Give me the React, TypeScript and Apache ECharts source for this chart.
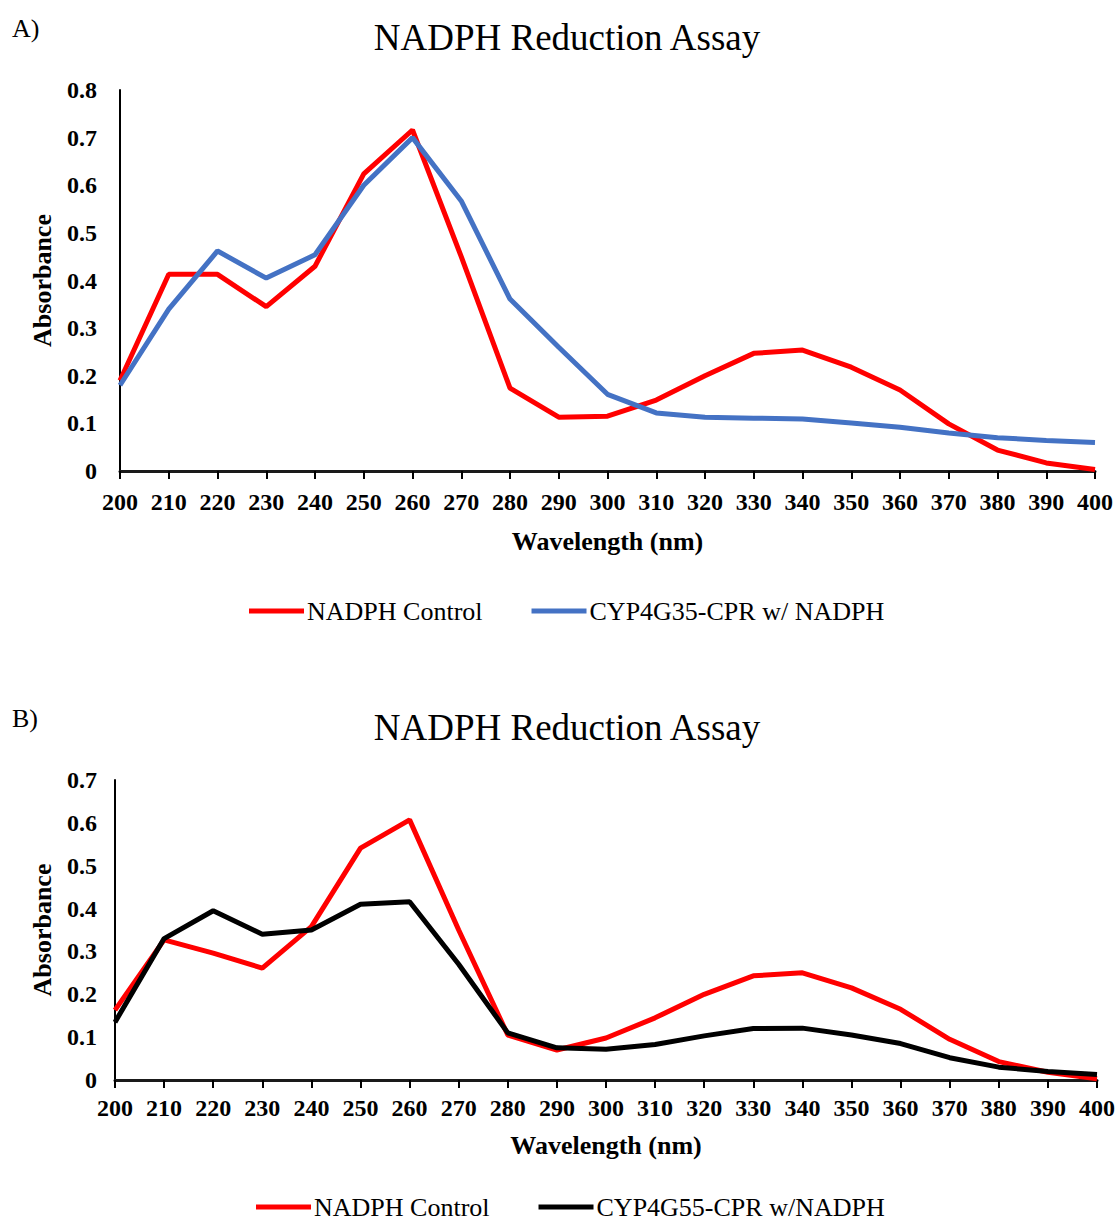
import React, { useEffect, useRef } from "react";
import * as echarts from "echarts";

const wavelengths = [200, 210, 220, 230, 240, 250, 260, 270, 280, 290, 300, 310, 320, 330, 340, 350, 360, 370, 380, 390, 400];

const controlA = [0.19, 0.413, 0.413, 0.345, 0.43, 0.624, 0.716, 0.45, 0.174, 0.113, 0.115, 0.149, 0.2, 0.247, 0.254, 0.218, 0.17, 0.099, 0.044, 0.017, 0.003];
const cyp4g35 = [0.18, 0.34, 0.462, 0.405, 0.454, 0.6, 0.7, 0.567, 0.361, 0.26, 0.161, 0.122, 0.113, 0.111, 0.109, 0.101, 0.092, 0.08, 0.07, 0.064, 0.06];

const controlB = [0.163, 0.327, 0.296, 0.261, 0.358, 0.541, 0.607, 0.35, 0.105, 0.07, 0.098, 0.145, 0.2, 0.243, 0.25, 0.215, 0.165, 0.095, 0.043, 0.018, 0.003];
const cyp4g55 = [0.135, 0.33, 0.395, 0.34, 0.35, 0.41, 0.416, 0.27, 0.11, 0.075, 0.072, 0.083, 0.103, 0.12, 0.121, 0.105, 0.085, 0.052, 0.03, 0.02, 0.013];

const namesA = ["NADPH Control", "CYP4G35-CPR w/ NADPH"];
const namesB = ["NADPH Control", "CYP4G55-CPR w/NADPH"];
const titleText = "NADPH Reduction Assay";

const SERIF = "'Liberation Serif', 'Times New Roman', serif";

function pairs(vals: number[]) {
  return wavelengths.map((w, i) => [w, vals[i]]);
}

export default function App() {
  const ref = useRef<HTMLDivElement>(null);
  useEffect(() => {
    if (!ref.current) return;
    const chart = echarts.init(ref.current, null, { renderer: "svg" });

    const xAxisBase = (gridIndex: number, margin: number, nameGap: number) => ({
      type: "value",
      gridIndex,
      min: 200,
      max: 400,
      interval: 10,
      name: "Wavelength (nm)",
      nameLocation: "middle",
      nameGap,
      nameTextStyle: { fontFamily: SERIF, fontWeight: "bold", fontSize: 26, color: "#000" },
      axisLine: { show: true, onZero: false, lineStyle: { color: "#1a1a1a", width: 3 } },
      axisTick: { show: true, length: 8, inside: false, lineStyle: { color: "#000", width: 2 } },
      axisLabel: { fontFamily: SERIF, fontWeight: "bold", fontSize: 24, color: "#000", margin, hideOverlap: false },
      splitLine: { show: false },
    });

    const yAxisBase = (gridIndex: number, max: number, margin: number, nameGap: number) => ({
      type: "value",
      gridIndex,
      min: 0,
      max,
      interval: 0.1,
      name: "Absorbance",
      nameLocation: "middle",
      nameGap,
      nameRotate: 90,
      nameTextStyle: { fontFamily: SERIF, fontWeight: "bold", fontSize: 26, color: "#000" },
      axisLine: { show: true, lineStyle: { color: "#000", width: 2 } },
      axisTick: { show: false },
      axisLabel: {
        fontFamily: SERIF,
        fontWeight: "bold",
        fontSize: 24,
        color: "#000",
        margin,
        formatter: (v: number) => (v === 0 ? "0" : v.toFixed(1)),
      },
      splitLine: { show: false },
    });

    const lineSeries = (name: string, data: number[], color: string, idx: number) => ({
      type: "line",
      name,
      xAxisIndex: idx,
      yAxisIndex: idx,
      data: pairs(data),
      symbol: "none",
      lineStyle: { color, width: 5 },
      itemStyle: { color },
      color,
    });

    const legendBase = (data: string[], left: number, top: number) => ({
      data,
      left,
      top,
      orient: "horizontal",
      icon: "rect",
      itemWidth: 55,
      itemHeight: 5,
      itemGap: 49,
      textStyle: { fontFamily: SERIF, fontSize: 26, color: "#000", padding: [0, 0, 0, -2] },
    });

    chart.setOption({
      animation: false,
      backgroundColor: "#fff",
      grid: [
        { left: 120, top: 90, width: 975, height: 381, containLabel: false },
        { left: 115, top: 780, width: 982, height: 300, containLabel: false },
      ],
      xAxis: [xAxisBase(0, 19, 57), xAxisBase(1, 16, 52)],
      yAxis: [yAxisBase(0, 0.8, 23, 65), yAxisBase(1, 0.7, 18, 60)],
      legend: [legendBase(namesA, 244, 593), legendBase(namesB, 251, 1189)],
      series: [
        lineSeries(namesA[0], controlA, "#FF0000", 0),
        lineSeries(namesA[1], cyp4g35, "#4472C4", 0),
        lineSeries(namesB[0], controlB, "#FF0000", 1),
        lineSeries(namesB[1], cyp4g55, "#000000", 1),
      ],
      graphic: [
        { type: "text", x: 12, y: 28, style: { text: "A)", font: `26px ${SERIF}`, fill: "#000", textAlign: "left", textVerticalAlign: "middle" } },
        { type: "text", x: 567, y: 37, style: { text: titleText, font: `37px ${SERIF}`, fill: "#000", textAlign: "center", textVerticalAlign: "middle" } },
        { type: "text", x: 12, y: 718, style: { text: "B)", font: `26px ${SERIF}`, fill: "#000", textAlign: "left", textVerticalAlign: "middle" } },
        { type: "text", x: 567, y: 727, style: { text: titleText, font: `37px ${SERIF}`, fill: "#000", textAlign: "center", textVerticalAlign: "middle" } },
      ],
    });

    return () => chart.dispose();
  }, []);

  return (
    <div
      ref={ref}
      style={{ position: "absolute", left: 0, top: 0, width: 1119, height: 1224, background: "#fff" }}
    />
  );
}
